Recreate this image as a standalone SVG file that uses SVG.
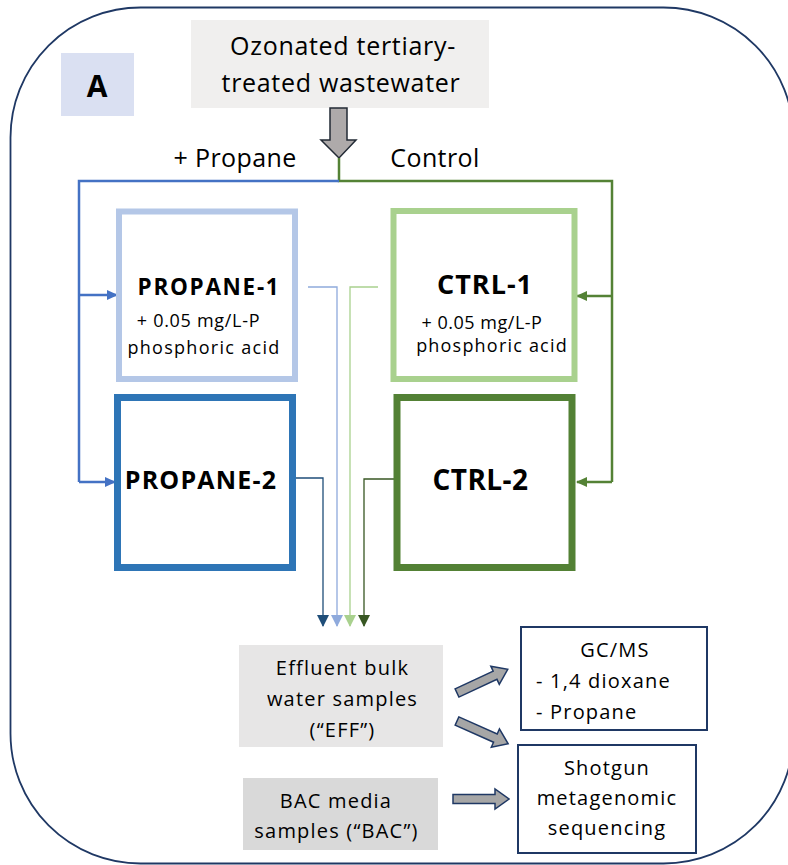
<svg xmlns="http://www.w3.org/2000/svg" width="788" height="865" viewBox="0 0 788 865">
<defs>
<style>
text{font-family:"Open Sans","Noto Sans","Liberation Sans",sans-serif;fill:#000}
.c{text-anchor:middle}
.b{font-weight:bold}
.s20{font-size:20px;letter-spacing:1.2px}
.s18{font-size:18px}
.feedB{stroke:#4472c4;stroke-width:2.5;fill:none}
.feedG{stroke:#548235;stroke-width:2.5;fill:none}
.out{stroke-width:1.3;fill:none}
.blk{fill:#aeaaaa;stroke:#222a35;stroke-width:1.5}
.blk2{fill:#a6a6a6;stroke:#1f3864;stroke-width:1.5}
</style>
<marker id="mB" markerWidth="11" markerHeight="10" refX="10" refY="5" orient="auto" markerUnits="userSpaceOnUse"><path d="M0,0 L11,5 L0,10 Z" fill="#4472c4"/></marker>
<marker id="mG" markerWidth="11" markerHeight="10" refX="10" refY="5" orient="auto" markerUnits="userSpaceOnUse"><path d="M0,0 L11,5 L0,10 Z" fill="#548235"/></marker>
<marker id="o1" markerWidth="12" markerHeight="12" refX="11" refY="6" orient="auto" markerUnits="userSpaceOnUse"><path d="M0,0 L12,6 L0,12 Z" fill="#1f4e79"/></marker>
<marker id="o2" markerWidth="12" markerHeight="12" refX="11" refY="6" orient="auto" markerUnits="userSpaceOnUse"><path d="M0,0 L12,6 L0,12 Z" fill="#8faadc"/></marker>
<marker id="o3" markerWidth="12" markerHeight="12" refX="11" refY="6" orient="auto" markerUnits="userSpaceOnUse"><path d="M0,0 L12,6 L0,12 Z" fill="#a9d18e"/></marker>
<marker id="o4" markerWidth="12" markerHeight="12" refX="11" refY="6" orient="auto" markerUnits="userSpaceOnUse"><path d="M0,0 L12,6 L0,12 Z" fill="#385723"/></marker>
<path id="barrow" d="M0,-4.5 L42,-4.5 L42,-10 L56,0 L42,10 L42,4.5 L0,4.5 Z"/>
</defs>
<rect x="0" y="0" width="788" height="865" fill="#fff"/>
<rect id="frame" x="10.5" y="7.5" width="783" height="856" rx="130" ry="130" fill="none" stroke="#1f3864" stroke-width="1.8"/>

<g id="label-A">
<rect x="61" y="53" width="73" height="63" fill="#dae0f2"/>
<text x="97" y="97" class="c b" font-size="30">A</text>
</g>

<g id="source">
<rect x="191" y="20" width="298" height="88" fill="#f0efee"/>
<text x="343" y="55" class="c" font-size="25" letter-spacing="0.7">Ozonated tertiary-</text>
<text x="341" y="92" class="c" font-size="25" letter-spacing="0.7">treated wastewater</text>
</g>

<g id="connectors">
<path class="blk" d="M330,108 L347,108 L347,140 L356,140 L339,158 L321,140 L330,140 Z"/>
<path class="feedG" d="M339,158 L339,181 L612,181 L612,482"/>
<path class="feedB" d="M339,181 L79,181 L79,482"/>
<path class="feedB" d="M79,295 L117,295" marker-end="url(#mB)"/>
<path class="feedB" d="M79,482 L115,482" marker-end="url(#mB)"/>
<path class="feedG" d="M612,296 L577,296" marker-end="url(#mG)"/>
<path class="feedG" d="M612,482 L577,482" marker-end="url(#mG)"/>
<path class="out" stroke="#1f4e79" d="M296,478 L323,478 L323,626" marker-end="url(#o1)"/>
<path class="out" stroke="#8faadc" d="M308,287 L337,287 L337,626" marker-end="url(#o2)"/>
<path class="out" stroke="#a9d18e" d="M378,287 L350,287 L350,626" marker-end="url(#o3)"/>
<path class="out" stroke="#385723" d="M394,479 L364,479 L364,626" marker-end="url(#o4)"/>
<use href="#barrow" class="blk2" transform="translate(457,693) rotate(-25)"/>
<use href="#barrow" class="blk2" transform="translate(457,721) rotate(24)"/>
<use href="#barrow" class="blk2" transform="translate(453,799)"/>
</g>

<text x="235" y="167" class="c" font-size="25" letter-spacing="0.4">+ Propane</text>
<text x="435" y="167" class="c" font-size="25" letter-spacing="0.4">Control</text>

<g id="propane-1">
<rect x="119" y="211.5" width="176" height="167.5" fill="#fff" stroke="#b4c7e7" stroke-width="6"/>
<text x="209" y="294.5" class="c b" font-size="22.5" letter-spacing="1.7">PROPANE-1</text>
<text x="198.5" y="327" class="c s18" letter-spacing="0.7">+ 0.05 mg/L-P</text>
<text x="204" y="354" class="c s18" letter-spacing="1.3">phosphoric acid</text>
</g>

<g id="propane-2">
<rect x="117.5" y="397.5" width="175" height="170" fill="#fff" stroke="#2e75b6" stroke-width="7"/>
<text x="201" y="488.5" class="c b" font-size="25" letter-spacing="1.2">PROPANE-2</text>
</g>

<g id="ctrl-1">
<rect x="393.5" y="211" width="181" height="168" fill="#fff" stroke="#a9d18e" stroke-width="6"/>
<text x="485" y="293.5" class="c b" font-size="27" letter-spacing="1">CTRL-1</text>
<text x="482" y="328.5" class="c s18" letter-spacing="0.5">+ 0.05 mg/L-P</text>
<text x="492" y="352" class="c s18" letter-spacing="1.2">phosphoric acid</text>
</g>

<g id="ctrl-2">
<rect x="397" y="397.5" width="175" height="170" fill="#fff" stroke="#538135" stroke-width="7"/>
<text x="480.5" y="490" class="c b" font-size="28" letter-spacing="0.4">CTRL-2</text>
</g>

<g id="eff">
<rect x="239" y="645" width="204" height="102" fill="#e7e6e6"/>
<text x="342.5" y="675" class="c s20">Effluent bulk</text>
<text x="342.5" y="706" class="c s20">water samples</text>
<text x="342.5" y="737" class="c s20">(“EFF”)</text>
</g>

<g id="bac">
<rect x="243" y="778" width="195" height="72" fill="#d9d9d9"/>
<text x="336" y="808" class="c s20">BAC media</text>
<text x="336.5" y="838" class="c s20">samples (“BAC”)</text>
</g>

<g id="gcms">
<rect x="521" y="627" width="186" height="103" fill="#fff" stroke="#1f3864" stroke-width="2"/>
<text x="615" y="657" class="c s20" letter-spacing="2">GC/MS</text>
<text x="536" y="688" class="s20" letter-spacing="1.3">- 1,4 dioxane</text>
<text x="536" y="719" class="s20" letter-spacing="1.4">- Propane</text>
</g>

<g id="shotgun">
<rect x="518" y="745" width="178" height="108" fill="#fff" stroke="#1f3864" stroke-width="2"/>
<text x="607" y="775" class="c s20">Shotgun</text>
<text x="607" y="805" class="c s20">metagenomic</text>
<text x="607" y="835" class="c s20">sequencing</text>
</g>
</svg>
